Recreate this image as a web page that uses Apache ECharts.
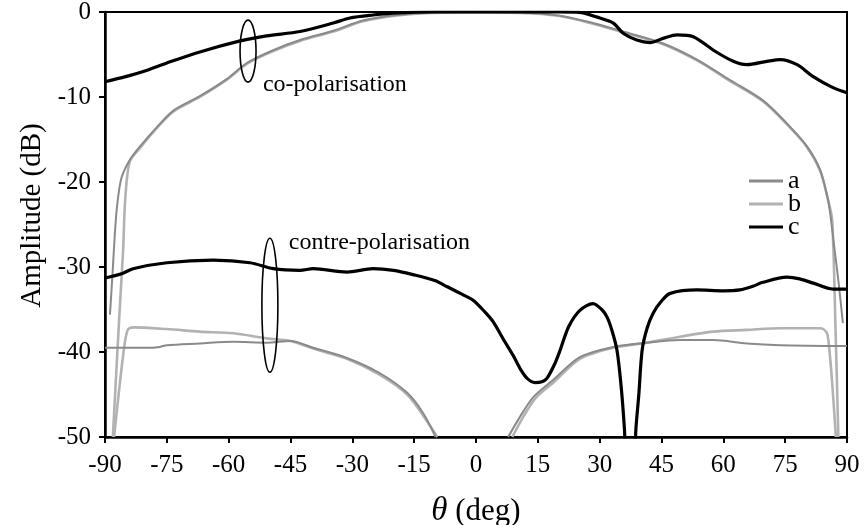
<!DOCTYPE html>
<html>
<head>
<meta charset="utf-8">
<script src="https://cdn.jsdelivr.net/npm/echarts@6/dist/echarts.min.js"></script>
<style>
  html, body { margin: 0; padding: 0; background: #fff; }
  #chart { width: 865px; height: 525px; }
</style>
</head>
<body>
<div id="chart"></div>
<script>
// Angle ticks (deg) and amplitude ticks (dB)
const thetaTicks = [-90, -75, -60, -45, -30, -15, 0, 15, 30, 45, 60, 75, 90];
const ampTicks = [0, -10, -20, -30, -40, -50];

// Co-polarisation patterns [theta (deg), amplitude (dB)]
const coPolA = [
  [-88.8, -35.6], [-88.2, -31], [-87.6, -26], [-87.0, -22.5], [-86.0, -19.5], [-84.0, -17.4],
  [-81.5, -15.8], [-77.5, -13.6], [-73.4, -11.6], [-67, -9.9], [-60.5, -7.9], [-55.6, -6.0],
  [-49.2, -4.5], [-42.7, -3.3], [-34.6, -2.2], [-27.4, -1.0], [-19.2, -0.35], [-11, -0.05],
  [0, 0], [11, -0.05], [20, -0.4], [27.7, -1.2], [35.7, -2.3], [45.4, -3.7], [53.6, -5.6],
  [61.6, -8.0], [69.6, -10.4], [75.4, -13.1], [80.3, -15.8], [83.5, -18.6], [85.4, -22.1],
  [86.0, -24], [87.0, -28], [88.0, -32], [89.0, -36.6]
];
const coPolB = [
  [-88.1, -50], [-87.0, -40], [-86.2, -33], [-85.6, -28], [-85.1, -22.1], [-84.0, -17.6],
  [-81.5, -16.0], [-77.5, -13.7], [-73.4, -11.7], [-67, -10.0], [-60.5, -8.0], [-55.6, -6.1],
  [-49.2, -4.6], [-42.7, -3.4], [-34.6, -2.3], [-27.4, -1.1], [-19.2, -0.4], [-11, -0.1],
  [0, -0.05], [11, -0.1], [20, -0.45], [27.7, -1.3], [35.7, -2.4], [45.4, -3.8], [53.6, -5.7],
  [61.6, -8.1], [69.6, -10.5], [75.4, -13.2], [80.3, -15.9], [83.5, -18.7], [85.4, -22.1],
  [86.4, -24.5], [87.2, -37], [87.9, -50]
];
const coPolC = [
  [-90, -8.2], [-85, -7.6], [-80.7, -7.0], [-75, -6.0], [-67, -4.7], [-57.2, -3.4],
  [-50.8, -2.8], [-42.7, -2.3], [-34.6, -1.3], [-30.6, -0.7], [-25, -0.35], [-19, -0.1],
  [-10, 0], [0, 0], [10, 0], [20, 0], [25, -0.05], [29.4, -0.6], [33.3, -1.3], [35.7, -2.5],
  [39, -3.3], [42.2, -3.6], [45.4, -3.1], [48.8, -2.7], [52.7, -2.9], [57.6, -4.5],
  [62.4, -5.8], [65.7, -6.2], [70.6, -5.8], [73.8, -5.6], [77.9, -6.2], [81.8, -7.6],
  [86.6, -8.9], [90, -9.5]
];

// Cross-polarisation patterns [theta (deg), amplitude (dB)]
const crossPolA = [
  [-90, -39.5], [-80, -39.5], [-76.7, -39.4], [-75, -39.2], [-67, -39.0], [-58.9, -38.8],
  [-50.7, -38.9], [-45, -38.7], [-39.5, -39.5], [-31.3, -40.7], [-23.3, -42.5], [-16.7, -44.8],
  [-12.8, -47.2], [-9.8, -50], null,
  [7.8, -50], [10.7, -47.6], [13.9, -45.3], [18.7, -43.3], [25.2, -40.6], [33.3, -39.4],
  [41.5, -38.9], [49.5, -38.6], [57.5, -38.6], [65.7, -39.0], [73.8, -39.2], [90, -39.3]
];
const crossPolB = [
  [-87.8, -50], [-85.5, -40], [-84.5, -37.4], [-83.2, -37.1], [-75, -37.3], [-67, -37.6],
  [-58.9, -37.8], [-50.7, -38.4], [-45, -38.7], [-39.5, -39.6], [-31.3, -40.8], [-23.3, -42.7],
  [-16.7, -45.0], [-12.8, -47.5], [-9.4, -50], null,
  [8.8, -50], [11.5, -47.6], [14.5, -45.4], [19, -43.5], [25.2, -40.8], [33.3, -39.5],
  [41.5, -38.9], [49.5, -38.2], [57.5, -37.6], [65.7, -37.4], [73.8, -37.2], [83.5, -37.2],
  [84.5, -37.4], [85.3, -38], [86.3, -43], [87.3, -50]
];
const crossPolC = [
  [-90, -31.3], [-86, -30.8], [-83.2, -30.2], [-75, -29.5], [-63.8, -29.2], [-54.8, -29.5],
  [-49.2, -30.2], [-42.7, -30.4], [-39.5, -30.2], [-31.3, -30.6], [-25, -30.2], [-20, -30.4],
  [-15.3, -30.9], [-10, -31.6], [-7.1, -32.3], [-3, -33.3], [-0.7, -33.9], [2, -35.2],
  [4.1, -36.4], [7, -38.8], [9, -40.4], [11, -42.2], [12.4, -43.1], [14.3, -43.6], [16, -43.5],
  [17.2, -43.1], [19, -41.5], [20.4, -39.8], [22.5, -37], [25.2, -35.1], [28.4, -34.3],
  [30.5, -35], [31.8, -35.9], [33, -37.5], [34.2, -39.8], [35.2, -44], [36.0, -49],
  [36.8, -56], [38.0, -56], [38.8, -49], [39.5, -45], [40.3, -39.8], [41.5, -37.2],
  [43, -35.4], [45, -34], [47.1, -33.1], [53.6, -32.7], [60, -32.8], [64, -32.7], [67, -32.3],
  [69.6, -31.8], [75.4, -31.2], [78.5, -31.4], [81.8, -31.9], [86.6, -32.6], [90, -32.6]
];

// Annotation anchors in data coordinates
const coPolMark = { center: [-55.3, -4.6], label: [-51.7, -8.5], text: 'co-polarisation' };
const crossPolMark = { center: [-50, -34.5], label: [-45.4, -27.2], text: 'contre-polarisation' };

const FONT = '"Liberation Serif", "Times New Roman", serif';
const styleA = { color: '#8a8a8a', width: 2 };
const styleB = { color: '#b2b2b2', width: 2.6 };
const styleC = { color: '#000000', width: 3.2 };

function line(name, data, st, z) {
  return {
    name: name, type: 'line', data: data, showSymbol: false, symbol: 'none',
    smooth: 0.3, connectNulls: false, clip: true, z: z,
    lineStyle: { color: st.color, width: st.width }, itemStyle: { color: st.color },
    emphasis: { disabled: true }, animation: false
  };
}

const chart = echarts.init(document.getElementById('chart'), null, { renderer: 'canvas' });
chart.setOption({
  animation: false,
  backgroundColor: '#fff',
  grid: {
    left: 105, right: 18, top: 12, bottom: 88, outerBoundsMode: 'none',
    show: true, borderColor: '#000', borderWidth: 2
  },
  legend: {
    orient: 'vertical', left: 744, top: 163, itemWidth: 34, itemGap: -3,
    itemHeight: 3, icon: 'rect',
    data: [
      { name: 'a', itemStyle: { color: styleA.color } },
      { name: 'b', itemStyle: { color: styleB.color } },
      { name: 'c', itemStyle: { color: styleC.color } }
    ],
    textStyle: { fontFamily: FONT, fontSize: 26, color: '#000', lineHeight: 23 },
    selectedMode: false
  },
  xAxis: {
    type: 'value', min: -90, max: 90, interval: 15,
    name: '{t|θ} (deg)', nameLocation: 'middle', nameGap: 58,
    nameTextStyle: {
      fontFamily: FONT, fontSize: 31, color: '#000',
      rich: { t: { fontFamily: FONT, fontSize: 33, fontStyle: 'italic', color: '#000' } }
    },
    axisLine: { onZero: false, lineStyle: { color: '#000', width: 2.5 } },
    axisTick: { show: true, length: 6, lineStyle: { color: '#000', width: 2 } },
    axisLabel: { fontFamily: FONT, fontSize: 25, color: '#000', margin: 16 },
    splitLine: { show: false }
  },
  yAxis: {
    type: 'value', min: -50, max: 0, interval: 10,
    name: 'Amplitude (dB)', nameLocation: 'middle', nameGap: 58, nameRotate: 90,
    nameTextStyle: { fontFamily: FONT, fontSize: 29, color: '#000', padding: [0, 0, 0, 18] },
    axisLine: { onZero: false, lineStyle: { color: '#000', width: 2.5 } },
    axisTick: { show: true, length: 6, lineStyle: { color: '#000', width: 2 } },
    axisLabel: { fontFamily: FONT, fontSize: 25, color: '#000', margin: 14 },
    splitLine: { show: false }
  },
  series: [
    line('a', coPolA, styleA, 3),
    line('b', coPolB, styleB, 2),
    line('c', coPolC, styleC, 4),
    line('a', crossPolA, styleA, 3),
    line('b', crossPolB, styleB, 2),
    line('c', crossPolC, styleC, 4)
  ]
});

// Ellipses grouping each family of curves, with their captions
function annotations() {
  const px = (p) => chart.convertToPixel({ gridIndex: 0 }, p);
  const c1 = px(coPolMark.center), l1 = px(coPolMark.label);
  const c2 = px(crossPolMark.center), l2 = px(crossPolMark.label);
  const ellipse = (c, rx, ry) => ({
    type: 'ellipse', shape: { cx: c[0], cy: c[1], rx: rx, ry: ry },
    style: { fill: null, stroke: '#000', lineWidth: 1.6 }, z: 10, silent: true
  });
  const caption = (p, txt, size) => ({
    type: 'text', x: p[0], y: p[1], z: 10, silent: true,
    style: { text: txt, font: size + 'px ' + FONT, fill: '#000', textVerticalAlign: 'middle', textAlign: 'left' }
  });
  return [
    ellipse(c1, 8, 31), caption(l1, coPolMark.text, 24),
    ellipse(c2, 8, 67), caption(l2, crossPolMark.text, 24)
  ];
}
chart.setOption({ graphic: annotations() });
</script>
</body>
</html>
